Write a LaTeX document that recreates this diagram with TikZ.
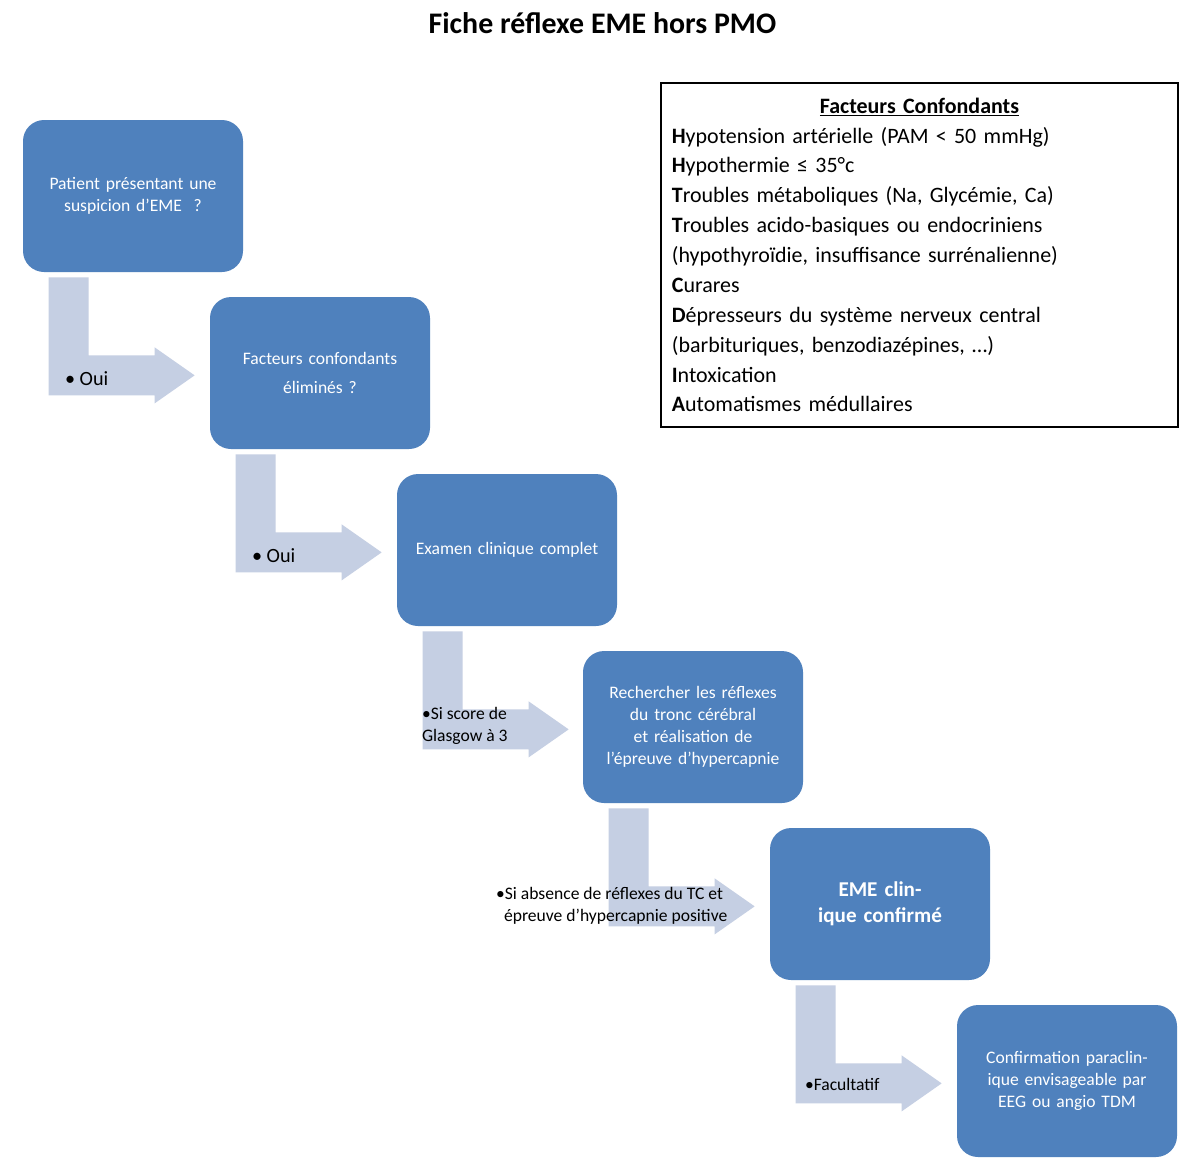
\documentclass[tikz,border=0pt]{standalone}
\usepackage{fontspec}
\setmainfont{Carlito}
\usetikzlibrary{calc}

\definecolor{boxblue}{HTML}{4F81BD}
\definecolor{arrowgrey}{HTML}{C5CFE3}

\tikzset{
  stepbox/.style={draw=none,fill=boxblue,rounded corners=12pt,minimum width=4.4cm,
    minimum height=3.04cm,text width=4.0cm,align=center,text=white,font=\fontsize{10}{12.5}\selectfont},
  steplabel/.style={anchor=west,inner sep=0,align=left,font=\fontsize{10}{12.5}\selectfont}
}

% bent connector under a box
\newcommand{\bentarrow}[1]{%
  \fill[arrowgrey,shift={(#1.south west)}] (0.52,-0.1) -- (1.32,-0.1) -- (1.32,-1.66)
    -- (2.64,-1.66) -- (2.64,-1.5) -- (3.44,-2.06) -- (2.64,-2.62) -- (2.64,-2.46)
    -- (0.52,-2.46) -- cycle;}

\begin{document}
\begin{tikzpicture}
\useasboundingbox[fill=white] (0,0) rectangle (24,-23.28);

\node[font=\bfseries\fontsize{17}{20}\selectfont] (title) at (12.05,-0.46) {Fiche réflexe EME hors PMO};

\node[stepbox] (patient) at (2.66,-3.92) {Patient présentant une suspicion d'EME\ \ ?};
\node[stepbox] (facteurs) at (6.4,-7.46) {Facteurs confondants\\[4pt] éliminés ?};
\node[stepbox] (examen) at (10.14,-11.0) {Examen clinique complet};
\node[stepbox] (reflexes) at (13.86,-14.54) {Rechercher les réflexes du tronc cérébral et réalisation de l'épreuve d'hypercapnie};
\node[stepbox,font=\bfseries\fontsize{12}{15}\selectfont] (eme) at (17.6,-18.08) {EME clinique confirmé};
\node[stepbox] (confirm) at (21.34,-21.62) {Confirmation paraclinique envisageable par EEG ou angio TDM};

\bentarrow{patient}
\bentarrow{facteurs}
\bentarrow{examen}
\bentarrow{reflexes}
\bentarrow{eme}

\node[steplabel,font=\fontsize{11.5}{14}\selectfont] (oui1) at ($(patient.south west)+(0.84,-2.12)$) {• Oui};
\node[steplabel,font=\fontsize{11.5}{14}\selectfont] (oui2) at ($(facteurs.south west)+(0.84,-2.12)$) {• Oui};
\node[steplabel] (glasgow) at ($(examen.south west)+(0.5,-2.0)$) {•Si score de\\Glasgow à 3};
\node[steplabel,anchor=east,align=left] (absence) at ($(reflexes.south west)+(2.9,-2.04)$) {•Si absence de réflexes du TC et\\\ \ épreuve d'hypercapnie positive};
\node[steplabel] (facult) at ($(eme.south west)+(0.7,-2.08)$) {•Facultatif};

\node[draw=black,line width=1pt,anchor=north west,minimum width=10.34cm,minimum height=6.88cm,
  text width=9.9cm,align=left,font=\fontsize{12.5}{17}\selectfont] (legend) at (13.2,-1.64) {%
  \centerline{\bfseries\underline{Facteurs Confondants}}
  \textbf{H}ypotension artérielle (PAM < 50 mmHg)\\
  \textbf{H}ypothermie ≤ 35°c\\
  \textbf{T}roubles métaboliques (Na, Glycémie, Ca)\\
  \textbf{T}roubles acido-basiques ou endocriniens\\
  (hypothyroïdie, insuffisance surrénalienne)\\
  \textbf{C}urares\\
  \textbf{D}épresseurs du système nerveux central\\
  (barbituriques, benzodiazépines, …)\\
  \textbf{I}ntoxication\\
  \textbf{A}utomatismes médullaires};
\end{tikzpicture}
\end{document}
